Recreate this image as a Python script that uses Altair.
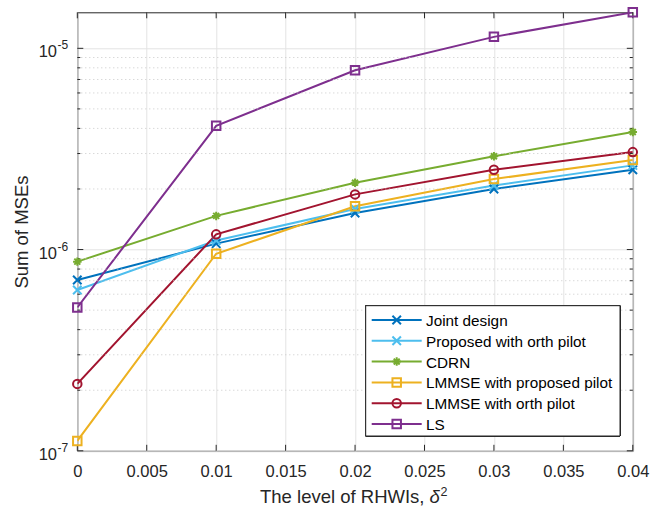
import altair as alt
import pandas as pd

# ---- data ----
x_vals = [0.0, 0.01, 0.02, 0.03, 0.04]
series_names = ["Joint design", "Proposed with orth pilot", "CDRN",
                "LMMSE with proposed pilot", "LMMSE with orth pilot", "LS"]
joint_design = [7.06e-7, 1.07e-6, 1.52e-6, 2.00e-6, 2.49e-6]
proposed_orth = [6.30e-7, 1.11e-6, 1.59e-6, 2.08e-6, 2.62e-6]
cdrn = [8.71e-7, 1.47e-6, 2.15e-6, 2.91e-6, 3.84e-6]
lmmse_proposed = [1.12e-7, 9.53e-7, 1.64e-6, 2.24e-6, 2.79e-6]
lmmse_orth = [2.15e-7, 1.19e-6, 1.88e-6, 2.49e-6, 3.05e-6]
ls = [5.16e-7, 4.12e-6, 7.78e-6, 1.14e-5, 1.51e-5]
all_series = [joint_design, proposed_orth, cdrn, lmmse_proposed, lmmse_orth, ls]

x_ticks = [0, 0.005, 0.01, 0.015, 0.02, 0.025, 0.03, 0.035, 0.04]
y_decades = [1e-7, 1e-6, 1e-5]
y_exponents = ["-7", "-6", "-5"]
y_minor = [m * d for d in [1e-7, 1e-6] for m in range(2, 10)]

x_title_main = "The level of RHWIs,"
x_title_sym = "δ"
x_title_sup = "2"
y_title = "Sum of MSEs"

colors = ["#0072BD", "#4DBEEE", "#77AC30", "#EDB120", "#A2142F", "#7E2F8E"]
x_path = "M-1,-1L1,1M-1,1L1,-1"
ast_path = "M-1,0L1,0M0,-1L0,1M-0.7,-0.7L0.7,0.7M-0.7,0.7L0.7,-0.7"
shapes = [x_path, x_path, ast_path, "square", "circle", "square"]
sizes = [72, 72, 100, 72, 100, 72]

W, H = 555.5, 438.5
FONT = "Liberation Sans"
AX = "#262626"
TICK_FS = 16.5
TITLE_FS = 18.5

rows = []
for name, vals in zip(series_names, all_series):
    for xv, yv in zip(x_vals, vals):
        rows.append({"series": name, "x": xv, "y": yv})
df = pd.DataFrame(rows)

xs = alt.Scale(domain=[0, 0.04], nice=False, zero=False)
ys = alt.Scale(type="log", domain=[1e-7, 1.51e-5], nice=False)
cs = alt.Scale(domain=series_names, range=colors)
ss = alt.Scale(domain=series_names, range=shapes)
zs = alt.Scale(domain=series_names, range=sizes)

X = alt.X("x:Q", scale=xs, axis=alt.Axis(
    values=x_ticks, format="~g", labelFont=FONT, labelFontSize=TICK_FS,
    labelColor=AX, labelBaseline="alphabetic", labelPadding=25.3,
    labelFlush=False, labelOverlap=False,
    tickSize=0, domain=False, grid=True, gridColor="#e3e3e3", gridWidth=1,
    title=None))
Y = alt.Y("y:Q", scale=ys, axis=alt.Axis(
    values=y_decades, labels=False, tickSize=0, domain=False, grid=True,
    gridColor="#e3e3e3", gridWidth=1,
    title=y_title, titleFont=FONT, titleFontSize=TITLE_FS,
    titleFontWeight="normal", titleColor=AX, titleBaseline="middle",
    titleX=-55.8, titleY=H / 2))

color = alt.Color("series:N", scale=cs, legend=None)
shape = alt.Shape("series:N", scale=ss, legend=None)
size = alt.Size("series:N", scale=zs, legend=None)

base = alt.Chart(df)
lines = base.mark_line(strokeWidth=2, clip=True).encode(x=X, y=Y, color=color,
                                                       detail="series:N")
points = base.mark_point(filled=False, strokeWidth=2, opacity=1).encode(
    x=alt.X("x:Q", scale=xs), y=alt.Y("y:Q", scale=ys),
    color=color, shape=shape, size=size)

# minor grid (dotted)
minor_df = pd.DataFrame({"y": y_minor})
minor_grid = alt.Chart(minor_df).mark_rule(color="#c8c8c8", strokeWidth=1,
                                           strokeDash=[1, 3]).encode(
    y=alt.Y("y:Q", scale=ys), x=alt.value(0), x2=alt.value(W))

# inward ticks
minor_l = alt.Chart(minor_df).mark_rule(color=AX, strokeWidth=1).encode(
    y=alt.Y("y:Q", scale=ys), x=alt.value(0), x2=alt.value(3))
minor_r = alt.Chart(minor_df).mark_rule(color=AX, strokeWidth=1).encode(
    y=alt.Y("y:Q", scale=ys), x=alt.value(W - 3), x2=alt.value(W))
dec_df = pd.DataFrame({"y": y_decades, "e": y_exponents})
major_l = alt.Chart(dec_df).mark_rule(color=AX, strokeWidth=1).encode(
    y=alt.Y("y:Q", scale=ys), x=alt.value(0), x2=alt.value(6))
major_r = alt.Chart(dec_df).mark_rule(color=AX, strokeWidth=1).encode(
    y=alt.Y("y:Q", scale=ys), x=alt.value(W - 6), x2=alt.value(W))
xt_df = pd.DataFrame({"x": x_ticks})
xt_b = alt.Chart(xt_df).mark_rule(color=AX, strokeWidth=1).encode(
    x=alt.X("x:Q", scale=xs), y=alt.value(H - 6), y2=alt.value(H))
xt_t = alt.Chart(xt_df).mark_rule(color=AX, strokeWidth=1).encode(
    x=alt.X("x:Q", scale=xs), y=alt.value(0), y2=alt.value(6))

# y tick labels 10^e
lab10 = alt.Chart(dec_df).mark_text(align="right", baseline="alphabetic",
                                    dx=-20.3, dy=9, font=FONT, fontSize=TICK_FS,
                                    color=AX).encode(
    y=alt.Y("y:Q", scale=ys), x=alt.value(0), text=alt.value("10"))
labexp = alt.Chart(dec_df).mark_text(align="left", baseline="alphabetic",
                                     dx=-19.8, dy=1, font=FONT, fontSize=12,
                                     color=AX).encode(
    y=alt.Y("y:Q", scale=ys), x=alt.value(0), text="e:N")

# x-axis title with italic delta and superscript
title_df = pd.DataFrame({"t": [x_title_main], "s": [x_title_sym], "p": [x_title_sup]})
tbase = alt.Chart(title_df)
T0 = 182.7
TY = H + 52.5
t_main = tbase.mark_text(align="left", baseline="alphabetic", font=FONT,
                         fontSize=TITLE_FS, color=AX).encode(
    x=alt.value(T0), y=alt.value(TY), text="t:N")
t_sym = tbase.mark_text(align="left", baseline="alphabetic", font=FONT,
                        fontSize=TITLE_FS, fontStyle="italic", color=AX).encode(
    x=alt.value(T0 + 169.6), y=alt.value(TY), text="s:N")
t_sup = tbase.mark_text(align="left", baseline="alphabetic", font=FONT,
                        fontSize=12.5, color=AX).encode(
    x=alt.value(T0 + 180.5), y=alt.value(TY - 7), text="p:N")

# legend
leg_df = pd.DataFrame({"series": series_names,
                       "idx": list(range(len(series_names)))})
leg_base = alt.Chart(leg_df).transform_calculate(ly="307.7 + 20.8 * datum.idx")
LY = alt.Y("ly:Q", scale=None, axis=None)
leg_box = alt.Chart(leg_df).mark_rect(fill="white", stroke=AX,
                                      strokeWidth=1).encode(
    x=alt.value(288.4), x2=alt.value(542.7), y=alt.value(293.4), y2=alt.value(423.7))
leg_lines = leg_base.mark_rule(strokeWidth=2).encode(
    x=alt.value(294.4), x2=alt.value(344.4), y=LY, color=color)
leg_pts = leg_base.mark_point(filled=False, strokeWidth=2, opacity=1).encode(
    x=alt.value(319.4), y=LY, color=color, shape=shape, size=size)
leg_txt = leg_base.mark_text(align="left", baseline="middle", font=FONT,
                             fontSize=15.3, color="#000000", dy=1).encode(
    x=alt.value(348.7), y=LY, text="series:N")

chart = alt.layer(
    lines, minor_grid, minor_l, minor_r, major_l, major_r, xt_b, xt_t,
    points, lab10, labexp, t_main, t_sym, t_sup,
    leg_box, leg_lines, leg_pts, leg_txt
).properties(
    width=W, height=H,
    autosize=alt.AutoSizeParams(type="none"),
    padding={"left": 77.3, "top": 12.3, "right": 32.2, "bottom": 56.2},
    background="white",
).configure_view(stroke=AX, strokeWidth=1)

chart.save("out.html", embed_options={"renderer": "svg", "actions": False})
